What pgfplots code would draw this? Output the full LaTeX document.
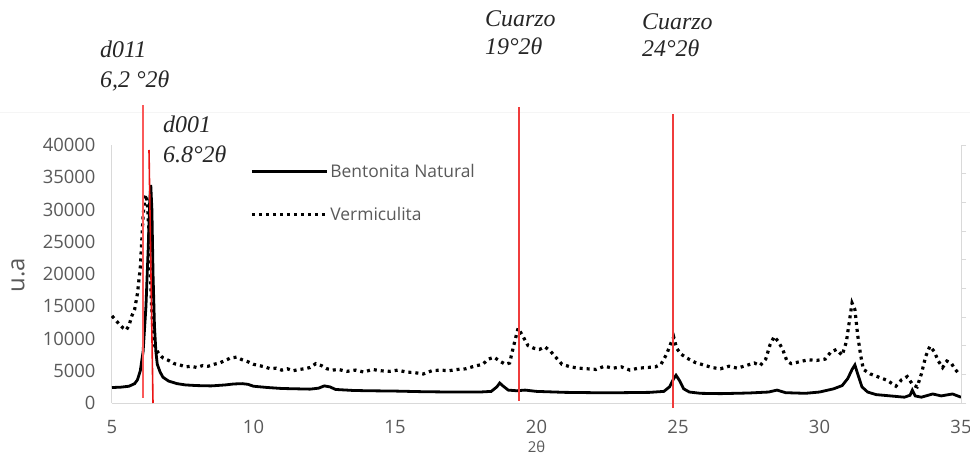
\documentclass[border=0pt]{standalone}
\usepackage{pgfplots}
\pgfplotsset{compat=1.18}
\usepackage{fontspec}
\setmainfont{Liberation Serif}
\newfontfamily\osf{Open Sans}
\definecolor{tickgray}{RGB}{89,89,89}
\definecolor{axgray}{RGB}{217,217,217}
\definecolor{refred}{RGB}{240,60,60}
\definecolor{softred}{RGB}{250,90,90}
\definecolor{pured}{RGB}{235,20,20}

\pgfplotstableread{
x y
5.0 2400
5.3 2450
5.6 2600
5.8 3000
5.9 3600
6.0 5000
6.1 8000
6.2 15000
6.28 24000
6.33 31000
6.37 33800
6.41 30000
6.45 20000
6.5 12000
6.55 8000
6.6 6000
6.7 4800
6.8 4000
7.0 3400
7.3 3000
7.6 2800
8.0 2700
8.5 2650
9.0 2800
9.3 2950
9.6 3000
9.8 2900
10.0 2600
10.5 2400
11.0 2250
11.5 2200
12.0 2150
12.3 2300
12.5 2650
12.7 2500
12.9 2100
13.5 1950
14.0 1900
15.0 1850
16.0 1750
17.0 1700
18.0 1700
18.4 1800
18.6 2500
18.7 3100
18.8 2700
19.0 2000
19.3 1900
19.6 2000
20.0 1800
21.0 1650
22.0 1600
23.0 1600
24.0 1650
24.5 1800
24.7 2500
24.85 3800
24.93 4300
25.05 3500
25.2 2200
25.4 1700
25.8 1500
26.5 1450
27.5 1550
28.2 1700
28.5 2000
28.8 1600
29.5 1500
30.0 1700
30.5 2200
30.8 2700
31.0 3800
31.15 5200
31.25 5900
31.35 4500
31.5 2500
31.7 1700
32.0 1300
32.5 1100
33.0 900
33.2 1200
33.28 2000
33.38 1100
33.6 900
34.0 1400
34.3 1100
34.7 1400
35.0 900
}\bentonita

\pgfplotstableread{
x y
5.0 13500
5.1 13000
5.2 12500
5.3 12000
5.4 11600
5.5 11300
5.6 12000
5.7 13500
5.8 14500
5.9 17000
6.0 21000
6.05 25000
6.1 29000
6.15 31500
6.2 32300
6.25 31000
6.3 27000
6.35 21000
6.4 15000
6.45 11000
6.5 9000
6.6 8000
6.7 7400
6.8 7000
7.0 6600
7.2 6100
7.4 5900
7.6 5600
7.8 5700
8.0 5500
8.2 5800
8.4 5700
8.6 6000
8.8 6200
9.0 6600
9.2 7000
9.4 7100
9.6 6700
9.8 6400
10.0 6000
10.2 5800
10.4 5600
10.6 5300
10.8 5400
11.0 5100
11.2 5300
11.4 5000
11.6 5200
11.8 5300
12.0 5500
12.2 6100
12.4 5800
12.6 5300
12.8 5100
13.0 5200
13.3 4900
13.6 5100
13.9 4800
14.2 5200
14.5 5000
14.8 4900
15.1 5100
15.4 4800
15.7 4700
16.0 4500
16.3 5000
16.6 5100
16.9 5000
17.2 5200
17.5 5300
17.8 5700
18.1 6000
18.3 6800
18.5 7100
18.7 6500
18.9 6000
19.05 6200
19.2 9000
19.35 11600
19.5 10500
19.7 8900
19.9 8500
20.1 8300
20.3 8700
20.5 8000
20.7 7000
20.9 6000
21.2 5600
21.5 5400
21.8 5300
22.1 5200
22.4 5700
22.7 5400
23.0 5600
23.3 5100
23.6 5400
23.9 5500
24.2 5600
24.4 6000
24.6 7600
24.75 9300
24.85 10200
24.95 8500
25.1 7600
25.3 7000
25.6 6300
25.9 5900
26.2 5500
26.5 5300
26.8 5700
27.1 5400
27.4 5800
27.7 6200
27.9 5800
28.1 6800
28.25 9000
28.4 10300
28.55 9500
28.7 8300
28.85 6500
29.0 6100
29.3 6400
29.6 6700
29.9 6600
30.2 6800
30.4 7900
30.6 8300
30.8 7400
30.95 9500
31.05 12500
31.15 15500
31.25 14500
31.35 10500
31.45 7500
31.55 5200
31.8 4500
32.1 4000
32.4 3500
32.7 2600
32.9 3600
33.1 4100
33.3 2800
33.45 2500
33.6 4500
33.75 7200
33.9 8800
34.05 8000
34.2 6500
34.35 5500
34.5 6500
34.65 6200
34.8 5200
34.95 4400
}\vermiculita

\begin{document}
\begin{tikzpicture}
\useasboundingbox (-112bp,-52bp) rectangle (858bp,403bp);
% faint chart-area border line near the top
\draw[black!4, line width=0.8bp] (-112bp,291bp) -- (858bp,291bp);
\begin{axis}[
    at={(0,0)}, anchor=south west,
    scale only axis,
    width=849bp, height=258bp,
    xmin=5, xmax=35, ymin=0, ymax=40000,
    xtick={5,10,...,35},
    ytick={0,5000,...,40000},
    axis x line*=bottom, axis y line*=left,
    axis line style={draw=axgray, line width=1bp, -},
    major tick length=0pt,
    /pgf/number format/1000 sep={},
    /pgf/number format/assume math mode=true,
    scaled y ticks=false,
    ticklabel style={font=\osf\fontsize{18.5}{18.5}\selectfont, text=tickgray},
    xticklabel style={yshift=-14bp},
    yticklabel style={xshift=-13bp},
    xlabel={2θ},
    xlabel style={font=\osf\fontsize{15}{15}\selectfont, text=tickgray,
        at={(axis description cs:0.5,-0.1705)}, anchor=center},
    ylabel={u.a},
    ylabel style={font=\osf\fontsize{24}{24}\selectfont, text=tickgray,
        at={(axis description cs:-0.1107,0.496)}, anchor=center},
    legend style={draw=none, fill=none,
        at={(axis description cs:0.1625,0.934)}, anchor=north west,
        font=\osf\fontsize{17.5}{17.5}\selectfont, text=tickgray,
        inner sep=0pt, row sep=24bp,
        nodes={inner sep=2bp}},
    legend cell align=left,
    legend image code/.code={\draw[#1] (0bp,0bp) -- (75bp,0bp);},
    clip=false,
]
\addplot[black, line width=2.8bp] table {\bentonita};
\addlegendentry{Bentonita Natural}
\addplot[black, line width=3.2bp, dash pattern=on 3bp off 4bp] table {\vermiculita};
\addlegendentry{Vermiculita}
\end{axis}

% reference lines (d011, d001, cuarzo 19 and 24)
\draw[draw=softred, line width=1.3bp] (31bp,5bp) -- (31bp,298bp);
\draw[draw=pured, line width=1.6bp] (41bp,0bp) -- (37bp,253bp);
\draw[draw=refred, line width=1.2bp] (407bp,2bp) -- (407bp,296bp);
\draw[draw=refred, line width=1.2bp] (561bp,-5bp) -- (561bp,289bp);

\begin{axis}[
    at={(0,0)}, anchor=south west,
    scale only axis,
    width=849bp, height=258bp,
    xmin=5, xmax=35, ymin=0, ymax=9,
    axis x line=none, axis y line*=right,
    ytick={0,...,9}, yticklabels={},
    axis line style={draw=axgray, line width=1bp, -},
    tick style={draw=axgray, line width=1bp},
    major tick length=5bp, tick align=outside,
]
\end{axis}

\begin{scope}[every node/.style={anchor=base west, inner sep=0pt,
    font=\itshape\fontsize{24}{24}\selectfont, text=black!85}]
\node at (-12bp,345bp) {d011};
\node at (-12bp,315bp) {6,2 °2θ};
\node at (51bp,270bp) {d001};
\node at (51bp,240bp) {6.8°2θ};
\node at (373bp,376bp) {Cuarzo};
\node at (373bp,348bp) {19°2θ};
\node at (530bp,373bp) {Cuarzo};
\node at (530bp,346bp) {24°2θ};
\end{scope}
\end{tikzpicture}
\end{document}
